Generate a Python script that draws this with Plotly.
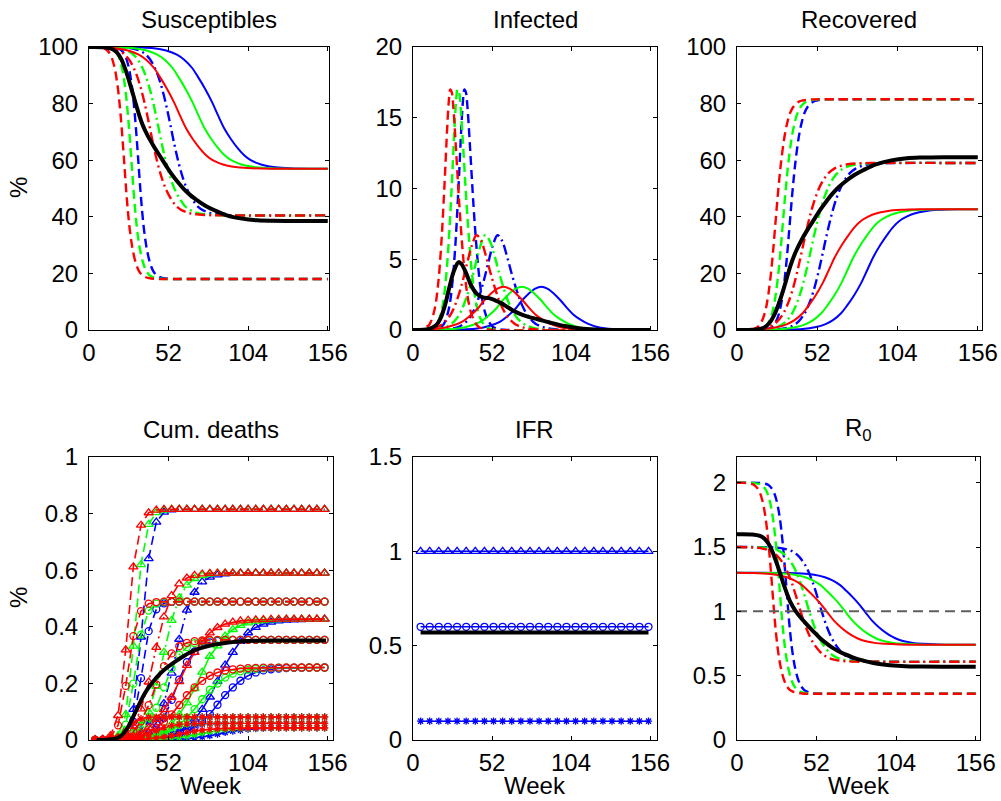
import plotly.graph_objects as go

# ---------------- data ----------------
# R0 = 2 scenarios (dashed): week grids per start colour, shared value shapes
WEEKS_A_RED = [0, 4.5, 10.5, 12.5, 14.5, 16.5, 18.5, 20.5, 22.5, 23.5, 24.5, 25.5, 26.5, 27.5, 28.5, 30.5, 32.5, 34.5, 36.5, 38.5, 40.5, 42.5, 45.5, 50.5, 156]
WEEKS_A_GREEN = [0, 9.3, 15.3, 17.3, 19.3, 21.3, 23.3, 25.3, 27.3, 28.3, 29.3, 30.3, 31.3, 32.3, 33.3, 35.3, 37.3, 39.3, 41.3, 43.3, 45.3, 47.3, 50.3, 55.3, 156]
WEEKS_A_BLUE = [0, 13.8, 19.8, 21.8, 23.8, 25.8, 27.8, 29.8, 31.8, 32.8, 33.8, 34.8, 35.8, 36.8, 37.8, 39.8, 41.8, 43.8, 45.8, 47.8, 49.8, 51.8, 54.8, 59.8, 156]
S_A = [100, 99.95, 99.35, 98.45, 96.7, 93.2, 87.0, 76.9, 63.0, 55.3, 47.9, 41.5, 36.1, 31.9, 28.5, 23.8, 21.0, 19.5, 18.8, 18.4, 18.2, 18.1, 18.0, 18.0, 18.0]
I_A = [0, 0.03, 0.35, 0.8, 1.6, 3.2, 5.9, 9.8, 14.3, 16.1, 17.0, 16.8, 15.8, 14.2, 12.4, 8.8, 5.8, 3.5, 2.0, 1.1, 0.6, 0.3, 0.1, 0.02, 0]
R_A = [0, 0.02, 0.3, 0.75, 1.7, 3.6, 7.1, 13.3, 22.7, 28.6, 35.1, 41.7, 48.1, 53.9, 59.1, 67.4, 73.1, 76.8, 78.9, 80.1, 80.8, 81.1, 81.4, 81.5, 81.5]
RT_A = [2.0, 1.999, 1.987, 1.969, 1.934, 1.864, 1.74, 1.538, 1.26, 1.106, 0.958, 0.83, 0.722, 0.638, 0.57, 0.476, 0.42, 0.39, 0.376, 0.368, 0.364, 0.362, 0.36, 0.36, 0.36]

# R0 = 1.5 scenarios (dash-dot)
WEEKS_B_RED = [0, 11.8, 16.8, 21.8, 25.8, 29.8, 32.8, 35.8, 38.8, 41.8, 44.8, 47.8, 50.8, 53.8, 56.8, 59.8, 62.8, 66.8, 71.8, 77.8, 86.8, 156]
WEEKS_B_GREEN = [0, 17.5, 22.5, 27.5, 31.5, 35.5, 38.5, 41.5, 44.5, 47.5, 50.5, 53.5, 56.5, 59.5, 62.5, 65.5, 68.5, 72.5, 77.5, 83.5, 92.5, 156]
WEEKS_B_BLUE = [0, 25.6, 30.6, 35.6, 39.6, 43.6, 46.6, 49.6, 52.6, 55.6, 58.6, 61.6, 64.6, 67.6, 70.6, 73.6, 76.6, 80.6, 85.6, 91.6, 100.6, 156]
S_B = [100, 99.7, 99.2, 97.97, 95.83, 91.9, 87.42, 81.37, 73.98, 66.0, 58.96, 53.31, 49.13, 46.16, 43.9, 42.6, 41.8, 41.1, 40.8, 40.6, 40.5, 40.5]
I_B = [0, 0.1, 0.25, 0.65, 1.3, 2.4, 3.5, 4.8, 6.0, 6.7, 6.3, 5.3, 4.1, 3.0, 2.05, 1.35, 0.85, 0.45, 0.2, 0.07, 0.01, 0]
R_B = [0, 0.19, 0.53, 1.38, 2.87, 5.7, 9.08, 13.83, 20.02, 27.3, 34.74, 41.39, 46.77, 50.84, 53.73, 55.68, 56.94, 57.93, 58.55, 58.86, 59.0, 59.0]
RT_B = [1.5, 1.496, 1.488, 1.47, 1.437, 1.379, 1.311, 1.221, 1.11, 0.99, 0.884, 0.8, 0.737, 0.692, 0.659, 0.639, 0.627, 0.617, 0.612, 0.609, 0.608, 0.608]

# R0 = 1.3 scenarios (solid)
WEEKS_C_RED = [0, 8.5, 17.5, 25.5, 32.5, 37.5, 42.5, 46.5, 51, 55.5, 59.5, 63.5, 68, 72.5, 76.5, 80.5, 85, 90, 97, 106.5, 119, 156]
WEEKS_C_GREEN = [0, 20.6, 29.6, 37.6, 44.6, 49.6, 54.6, 58.6, 63.1, 67.6, 71.6, 75.6, 80.1, 84.6, 88.6, 92.6, 97.1, 102.1, 109.1, 118.6, 131.1, 156]
WEEKS_C_BLUE = [0, 33.4, 42.4, 50.4, 57.4, 62.4, 67.4, 71.4, 75.9, 80.4, 84.4, 88.4, 92.9, 97.4, 101.4, 105.4, 109.9, 114.9, 121.9, 131.4, 143.9, 156]
S_C = [100, 99.85, 99.57, 98.75, 97.32, 95.43, 92.58, 89.26, 85.17, 80.53, 75.74, 71.21, 67.31, 64.1, 61.75, 60.1, 58.95, 58.1, 57.5, 57.15, 57.0, 57.0]
I_C = [0, 0.04, 0.1, 0.3, 0.6, 1.0, 1.5, 2.05, 2.55, 2.92, 3.05, 2.92, 2.55, 2.05, 1.55, 1.1, 0.75, 0.45, 0.2, 0.07, 0.015, 0]
R_C = [0, 0.11, 0.33, 0.95, 2.08, 3.57, 5.92, 8.69, 12.28, 16.55, 21.21, 25.87, 30.14, 33.73, 36.54, 38.6, 40.05, 41.17, 41.98, 42.45, 42.65, 42.7]
RT_C = [1.3, 1.298, 1.294, 1.284, 1.265, 1.241, 1.204, 1.16, 1.107, 1.047, 0.985, 0.926, 0.875, 0.833, 0.803, 0.781, 0.766, 0.755, 0.748, 0.743, 0.741, 0.741]

# Black (average) curves
WEEKS_BLACK = [0, 10, 15, 18, 21, 24, 27, 30, 32, 35, 38, 42, 46, 50, 54, 58, 62, 66, 70, 76, 82, 90, 100, 110, 120, 135, 156]
S_BLACK = [100, 99.88, 99.29, 98.2, 95.81, 91.72, 86.55, 80.96, 77.32, 72.55, 69.04, 65.23, 61.74, 58.34, 55.05, 52.26, 49.76, 47.74, 46.09, 43.94, 42.31, 40.53, 39.36, 38.77, 38.59, 38.51, 38.5]
I_BLACK = [0, 0.06, 0.31, 0.8, 1.73, 3.05, 4.2, 4.8, 4.65, 4.0, 3.2, 2.55, 2.3, 2.25, 2.1, 1.9, 1.63, 1.36, 1.16, 0.93, 0.76, 0.53, 0.28, 0.11, 0.04, 0.006, 0]
R_BLACK = [0, 0.06, 0.4, 1.0, 2.45, 5.2, 9.2, 14.15, 17.9, 23.3, 27.55, 32.0, 35.7, 39.1, 42.55, 45.5, 48.27, 50.55, 52.39, 54.75, 56.54, 58.53, 59.94, 60.69, 60.94, 61.05, 61.07]
RT_BLACK = [1.6, 1.598, 1.587, 1.565, 1.518, 1.438, 1.337, 1.228, 1.159, 1.069, 1.008, 0.946, 0.893, 0.843, 0.795, 0.755, 0.72, 0.692, 0.669, 0.641, 0.619, 0.596, 0.581, 0.573, 0.571, 0.57, 0.57]

# Cumulative deaths (%) for IFR = 1 %, sampled at the marker weeks
DEATH_WEEKS = [4, 9, 14, 19, 24, 29, 34, 39, 44, 49, 54, 59, 64, 69, 74, 79, 84, 89, 94, 99, 104, 109, 114, 119, 124, 129, 134, 139, 144, 149, 154]
D_A_RED = [0.0002, 0.002, 0.0145, 0.0865, 0.3185, 0.612, 0.759, 0.803, 0.8125, 0.8147, 0.815, 0.815, 0.815, 0.815, 0.815, 0.815, 0.815, 0.815, 0.815, 0.815, 0.815, 0.815, 0.815, 0.815, 0.815, 0.815, 0.815, 0.815, 0.815, 0.815, 0.815]
D_A_GREEN = [0.0, 0.0002, 0.002, 0.0155, 0.09, 0.332, 0.62, 0.762, 0.8035, 0.8127, 0.8147, 0.815, 0.815, 0.815, 0.815, 0.815, 0.815, 0.815, 0.815, 0.815, 0.815, 0.815, 0.815, 0.815, 0.815, 0.815, 0.815, 0.815, 0.815, 0.815, 0.815]
D_A_BLUE = [0.0, 0.0001, 0.0003, 0.002, 0.018, 0.108, 0.364, 0.641, 0.77, 0.805, 0.813, 0.8148, 0.815, 0.815, 0.815, 0.815, 0.815, 0.815, 0.815, 0.815, 0.815, 0.815, 0.815, 0.815, 0.815, 0.815, 0.815, 0.815, 0.815, 0.815, 0.815]
D_B_RED = [0.0004, 0.0011, 0.0033, 0.0085, 0.022, 0.0495, 0.11, 0.205, 0.3275, 0.435, 0.51, 0.552, 0.5724, 0.582, 0.5867, 0.5889, 0.5896, 0.59, 0.59, 0.59, 0.59, 0.59, 0.59, 0.59, 0.59, 0.59, 0.59, 0.59, 0.59, 0.59, 0.59]
D_B_GREEN = [0.0001, 0.0004, 0.0009, 0.0029, 0.0079, 0.0195, 0.043, 0.099, 0.19, 0.31, 0.423, 0.502, 0.547, 0.5706, 0.5812, 0.5863, 0.5887, 0.5895, 0.59, 0.59, 0.59, 0.59, 0.59, 0.59, 0.59, 0.59, 0.59, 0.59, 0.59, 0.59, 0.59]
D_B_BLUE = [0.0, 0.0001, 0.0002, 0.0005, 0.0014, 0.0042, 0.011, 0.0265, 0.0615, 0.129, 0.236, 0.356, 0.459, 0.522, 0.5585, 0.5753, 0.5836, 0.5872, 0.5892, 0.5898, 0.59, 0.59, 0.59, 0.59, 0.59, 0.59, 0.59, 0.59, 0.59, 0.59, 0.59]
D_C_RED = [0.0007, 0.0011, 0.0024, 0.0042, 0.0082, 0.015, 0.025, 0.0435, 0.073, 0.107, 0.151, 0.206, 0.2635, 0.3095, 0.348, 0.3785, 0.3975, 0.4095, 0.4164, 0.4208, 0.4233, 0.4248, 0.4257, 0.4265, 0.4268, 0.427, 0.427, 0.427, 0.427, 0.427, 0.427]
D_C_GREEN = [0.0002, 0.0004, 0.0006, 0.0009, 0.0018, 0.0031, 0.006, 0.0115, 0.0195, 0.034, 0.0565, 0.09, 0.131, 0.182, 0.24, 0.296, 0.3325, 0.3675, 0.3905, 0.4047, 0.4139, 0.4197, 0.4223, 0.4246, 0.4254, 0.4262, 0.4265, 0.4268, 0.427, 0.427, 0.427]
D_C_BLUE = [0.0001, 0.0001, 0.0002, 0.0003, 0.0004, 0.0007, 0.0012, 0.0023, 0.0042, 0.0085, 0.015, 0.026, 0.044, 0.0735, 0.108, 0.152, 0.2075, 0.2645, 0.3095, 0.349, 0.379, 0.3978, 0.4097, 0.4165, 0.4208, 0.4233, 0.4248, 0.4257, 0.4265, 0.4268, 0.427]
WEEKS_BLACK_D = [5, 10, 15, 18, 21, 24, 27, 30, 32, 35, 38, 42, 46, 50, 54, 58, 62, 66, 70, 76, 82, 90, 100, 110, 120, 135, 155]
D_BLACK = [0.0001, 0.0003, 0.0023, 0.006, 0.015, 0.033, 0.06, 0.095, 0.117, 0.15, 0.178, 0.207, 0.232, 0.252, 0.268, 0.283, 0.297, 0.309, 0.319, 0.329, 0.337, 0.344, 0.349, 0.351, 0.352, 0.352, 0.352]

# IFR (%)
IFR_WEEKS = [5, 11, 17, 23, 29, 35, 41, 47, 53, 59, 65, 71, 77, 83, 89, 95, 101, 107, 113, 119, 125, 131, 137, 143, 149, 155]
IFR_LEVELS = [1.0, 0.6, 0.1]
IFR_BLACK_WEEKS = [5, 155]
IFR_BLACK = [0.57, 0.57]

R0_THRESHOLD_WEEKS = [0, 156]
R0_THRESHOLD = [1.0, 1.0]

TITLES = ["Susceptibles", "Infected", "Recovered", "Cum. deaths", "IFR", "R<sub>0</sub>"]
X_TICKS = [0, 52, 104, 156]

# ---------------- styling ----------------
BLUE, GREEN, RED, BLACK = "#0000ff", "#00ff00", "#ff0000", "#000000"
DASHES = {"A": "9px,5px", "B": "10px,4px,2px,4px", "C": "solid"}
FONT = "Liberation Sans, Arial, Helvetica, sans-serif"
FS = 24
W, H = 1001, 801

GROUPS = {
    "A": (S_A, I_A, R_A, RT_A),
    "B": (S_B, I_B, R_B, RT_B),
    "C": (S_C, I_C, R_C, RT_C),
}
SCEN = [
    (BLUE, "A", WEEKS_A_BLUE, D_A_BLUE), (BLUE, "B", WEEKS_B_BLUE, D_B_BLUE), (BLUE, "C", WEEKS_C_BLUE, D_C_BLUE),
    (GREEN, "A", WEEKS_A_GREEN, D_A_GREEN), (GREEN, "B", WEEKS_B_GREEN, D_B_GREEN), (GREEN, "C", WEEKS_C_GREEN, D_C_GREEN),
    (RED, "A", WEEKS_A_RED, D_A_RED), (RED, "B", WEEKS_B_RED, D_B_RED), (RED, "C", WEEKS_C_RED, D_C_RED),
]
MARKERS = ["triangle-up-open", "circle-open", "asterisk-open"]
MSIZE = [8, 7, 6]

fig = go.Figure()


def axn(p, kind):
    return kind if p == 1 else f"{kind}{p}"


def line(p, x, y, color, dash, width, shape="spline"):
    fig.add_trace(go.Scatter(
        x=x, y=y, mode="lines", xaxis=axn(p, "x"), yaxis=axn(p, "y"),
        line=dict(color=color, dash=dash, width=width, shape=shape),
        hoverinfo="skip", showlegend=False))


# top panels + R0 panel
for color, g, weeks, _ in SCEN:
    s, i, r, rt = GROUPS[g]
    w = 2.0 if g == "C" else 2.4
    line(1, weeks, s, color, DASHES[g], w)
    line(2, weeks, i, color, DASHES[g], w)
    line(3, weeks, r, color, DASHES[g], w)
    line(6, weeks, rt, color, DASHES[g], w)

line(6, R0_THRESHOLD_WEEKS, R0_THRESHOLD, "#5f5f5f", "10px,6px", 2, "linear")

line(1, WEEKS_BLACK, S_BLACK, BLACK, "solid", 4)
line(2, WEEKS_BLACK, I_BLACK, BLACK, "solid", 4)
line(3, WEEKS_BLACK, R_BLACK, BLACK, "solid", 4)
line(6, WEEKS_BLACK, RT_BLACK, BLACK, "solid", 4)

# cumulative deaths
for color, g, _, d in SCEN:
    for k, lev in enumerate(IFR_LEVELS):
        fig.add_trace(go.Scatter(
            x=DEATH_WEEKS, y=[lev * v for v in d], mode="lines+markers",
            xaxis="x4", yaxis="y4",
            line=dict(color=color, dash=DASHES[g], width=1.6),
            marker=dict(symbol=MARKERS[k], size=MSIZE[k], color=color,
                        line=dict(color=color, width=1.3)),
            hoverinfo="skip", showlegend=False))
line(4, WEEKS_BLACK_D, D_BLACK, BLACK, "solid", 4)

# IFR
for k, lev in enumerate(IFR_LEVELS):
    fig.add_trace(go.Scatter(
        x=IFR_WEEKS, y=[lev for _ in IFR_WEEKS], mode="lines+markers",
        xaxis="x5", yaxis="y5",
        line=dict(color=BLUE, width=1.5),
        marker=dict(symbol=MARKERS[k], size=MSIZE[k], color=BLUE,
                    line=dict(color=BLUE, width=1.3)),
        hoverinfo="skip", showlegend=False))
line(5, IFR_BLACK_WEEKS, IFR_BLACK, BLACK, "solid", 4, "linear")

# ---------------- layout ----------------
XDOM = [(89, 329.3), (413, 657), (737, 981.5), (89, 333.3), (413, 656.7), (737, 980)]
XR = [157, 160.5, 158.4, 159.7, 160.4, 158.8]
YDOM_TOP = (47, 330)
YDOM_BOT = (457, 740)
YSPEC = [
    ([0, 100], [0, 20, 40, 60, 80, 100], ["0", "20", "40", "60", "80", "100"]),
    ([0, 20], [0, 5, 10, 15, 20], ["0", "5", "10", "15", "20"]),
    ([0, 100], [0, 20, 40, 60, 80, 100], ["0", "20", "40", "60", "80", "100"]),
    ([0, 1], [0, 0.2, 0.4, 0.6, 0.8, 1], ["0", "0.2", "0.4", "0.6", "0.8", "1"]),
    ([0, 1.5], [0, 0.5, 1, 1.5], ["0", "0.5", "1", "1.5"]),
    ([0, 2.2], [0, 0.5, 1, 1.5, 2], ["0", "0.5", "1", "1.5", "2"]),
]

common = dict(showline=True, linecolor="black", linewidth=1, mirror="ticks",
              ticks="inside", ticklen=4, tickwidth=1, tickcolor="black",
              showgrid=False, zeroline=False, fixedrange=True, automargin=False,
              tickfont=dict(family=FONT, size=FS, color="black"))

layout = dict(width=W, height=H, margin=dict(l=0, r=0, t=0, b=0, pad=0, autoexpand=False),
              paper_bgcolor="white", plot_bgcolor="white", showlegend=False,
              font=dict(family=FONT, size=FS, color="black"))
annotations = []
for p in range(1, 7):
    x0, x1 = XDOM[p - 1]
    ytop, ybot = YDOM_TOP if p <= 3 else YDOM_BOT
    yr, yv, yt = YSPEC[p - 1]
    layout[axn(p, "xaxis")] = dict(
        common, domain=[x0 / W, x1 / W], range=[0, XR[p - 1]],
        tickmode="array", tickvals=X_TICKS, ticktext=[str(v) for v in X_TICKS],
        anchor=axn(p, "y"), ticklabelstandoff=1)
    layout[axn(p, "yaxis")] = dict(
        common, domain=[1 - ybot / H, 1 - ytop / H], range=yr,
        tickmode="array", tickvals=yv, ticktext=yt,
        anchor=axn(p, "x"), ticklabelstandoff=5)
    cx = (x0 + x1) / 2 / W
    ty = 19.5 if p <= 3 else 429.5
    annotations.append(dict(text=TITLES[p - 1], x=cx, y=1 - ty / H, xref="paper", yref="paper",
                            xanchor="center", yanchor="middle", showarrow=False,
                            font=dict(family=FONT, size=FS, color="black")))
    if p >= 4:
        annotations.append(dict(text="Week", x=cx, y=1 - 785 / H, xref="paper", yref="paper",
                                xanchor="center", yanchor="middle", showarrow=False,
                                font=dict(family=FONT, size=FS, color="black")))
for yc in (188, 598):
    annotations.append(dict(text="%", x=18 / W, y=1 - yc / H, xref="paper", yref="paper",
                            xanchor="center", yanchor="middle", showarrow=False, textangle=-90,
                            font=dict(family=FONT, size=FS, color="black")))
layout["annotations"] = annotations
fig.update_layout(**layout)

fig.write_html("out.html")
